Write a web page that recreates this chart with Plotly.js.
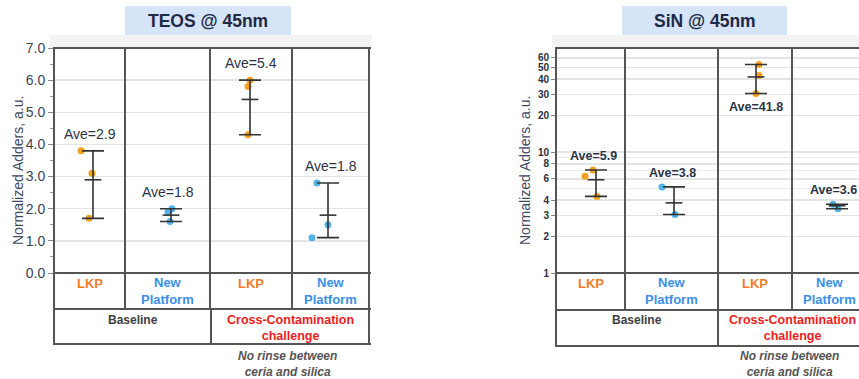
<!DOCTYPE html>
<html><head><meta charset="utf-8">
<script src="https://cdn.plot.ly/plotly-3.0.1.min.js"></script>
<style>html,body{margin:0;padding:0;background:#fff}#chart{width:859px;height:379px}</style>
</head><body><div id="chart"></div>
<script>
// ---------- data ----------
const categories = ['LKP', 'New<br>Platform', 'LKP', 'New<br>Platform'];
const catKind = ['LKP', 'NP', 'LKP', 'NP'];
const groups = ['Baseline', 'Cross-Contamination<br>challenge'];
const footnote = 'No rinse between<br>ceria and silica';
const teosTitle = 'TEOS @ 45nm';
const sinTitle = 'SiN @ 45nm';
const yTitle = 'Normalized Adders, a.u.';
const teosValues = [[3.8, 3.1, 1.7], [2.0, 1.9, 1.6], [6.0, 5.8, 4.3], [2.8, 1.5, 1.1]];
const teosAves = [2.9, 1.8, 5.4, 1.8];
const sinValues = [[7.1, 6.3, 4.3], [5.15, 3.05], [53, 43, 30.5], [3.7, 3.4]];
const sinAves = [5.9, 3.8, 41.8, 3.6];
const teosTicks = [0, 1, 2, 3, 4, 5, 6, 7];
const teosTickText = ['0.0', '1.0', '2.0', '3.0', '4.0', '5.0', '6.0', '7.0'];
const sinTicks = [1, 2, 3, 4, 6, 8, 10, 20, 30, 40, 50, 60];
const sinTickText = ['1', '2', '3', '4', '6', '8', '10', '20', '30', '40', '50', '60'];
const sinMinor = [5, 7, 9];

// ---------- layout / style ----------
const W = 859, H = 379;
const px = x => x / W, py = y => 1 - y / H;
const markerColor = {LKP: '#f4a21c', NP: '#52b4e6'};
const textColor = {LKP: '#f07c2a', NP: '#3b8fe6'};
const frameColor = '#555555';

const panels = [
  {values: teosValues, aves: teosAves, title: teosTitle, ax: '', edges: [54, 125, 210, 292, 369],
   top: 48, bottom: 273, rows: [309, 344], split: 211, titleBox: [125, 291], band: [50, 372],
   yTitleX: 18, rightBorder: true,
   pointOff: [[-8.5, 2.5, -0.5], [4.5, 0.5, 2.5], [-1, -3, -3], [-13.5, -2.5, -18.5]],
   barOff: [3.5, 3.5, -1, -2.5], labelPos: [1, 1, 1, 1], labelShift: 17,
   labelFont: {size: 14, color: '#2b3446', family: 'Liberation Sans, Arial'}},
  {values: sinValues, aves: sinAves, title: sinTitle, ax: '2', edges: [556, 625, 718, 792, 866],
   top: 48, bottom: 273, rows: [310, 346], split: 718, titleBox: [622, 787], band: [552, 859],
   yTitleX: 525, rightBorder: false,
   pointOff: [[2.5, -5.5, 6.5], [-9.5, 3.5], [4, 4, 1], [4, 9]],
   barOff: [5.5, 2.5, 1, 8], labelPos: [1, 1, -1, 1], labelShift: 14,
   labelFont: {size: 12.5, color: '#2b3446', family: 'Liberation Sans, Arial', weight: 'bold'}}
];

const traces = [], shapes = [], annotations = [];
const layout = {
  width: W, height: H, margin: {l: 0, r: 0, t: 0, b: 0},
  paper_bgcolor: '#fff', plot_bgcolor: '#fff', showlegend: false,
  font: {family: 'Liberation Sans, Arial, sans-serif'}
};
const ann = o => annotations.push(Object.assign({showarrow: false, xanchor: 'center', yanchor: 'middle'}, o));

panels.forEach((p, pi) => {
  const xa = 'x' + p.ax, ya = 'y' + p.ax;
  const centers = p.edges.slice(0, 4).map((e, i) => (e + p.edges[i + 1]) / 2);
  const xRight = Math.min(p.edges[4], W);
  layout['xaxis' + p.ax] = {domain: [px(p.edges[0]), px(xRight)], range: [p.edges[0], xRight],
    visible: false, fixedrange: true, anchor: ya};
  const yax = {domain: [py(p.bottom), py(p.top)], anchor: xa, showline: false, zeroline: false,
    ticks: 'outside', ticklen: 5, tickcolor: '#888', tickwidth: 1,
    gridcolor: '#e4e4e4', gridwidth: 1.5, tickmode: 'array'};
  if (pi === 0) {
    Object.assign(yax, {range: [0, 7], tickvals: teosTicks, ticktext: teosTickText,
      tickfont: {size: 14, color: '#3d4352'},
      minor: {tickmode: 'linear', dtick: 0.5, ticks: 'outside', ticklen: 3, tickcolor: '#999', showgrid: false}});
  } else {
    Object.assign(yax, {type: 'log', range: [0, Math.log10(72.5)], tickvals: sinTicks, ticktext: sinTickText,
      tickfont: {size: 10, color: '#2a3040', weight: 'bold'}, ticklen: 4,
      minor: {tickmode: 'array', tickvals: sinMinor, ticks: '', showgrid: true, gridcolor: '#ececec', gridwidth: 1}});
  }
  layout['yaxis' + p.ax] = yax;

  // points
  p.values.forEach((vals, i) => {
    traces.push({type: 'scatter', mode: 'markers', xaxis: xa, yaxis: ya,
      x: vals.map((v, j) => centers[i] + p.pointOff[i][j]), y: vals,
      marker: {size: 7, color: markerColor[catKind[i]]}, hoverinfo: 'y', cliponaxis: false});
  });
  // error bars with mean tick
  const maxs = p.values.map(v => Math.max(...v));
  const mins = p.values.map(v => Math.min(...v));
  traces.push({type: 'scatter', mode: 'markers', xaxis: xa, yaxis: ya,
    x: centers.map((c, i) => c + p.barOff[i]), y: p.aves,
    marker: {symbol: 'line-ew', size: 12, line: {width: 1.6, color: '#333'}, color: '#333'},
    error_y: {type: 'data', symmetric: false, array: maxs.map((m, i) => m - p.aves[i]),
      arrayminus: mins.map((m, i) => p.aves[i] - m), color: '#333', thickness: 1.6, width: 11},
    cliponaxis: false, hoverinfo: 'y'});
  // Ave labels
  p.aves.forEach((a, i) => {
    const above = p.labelPos[i] > 0;
    ann({xref: xa, yref: ya, x: centers[i] + (pi === 0 ? 0 : p.barOff[i] / 2),
      y: pi === 1 ? Math.log10(above ? maxs[i] : mins[i]) : (above ? maxs[i] : mins[i]),
      text: 'Ave=' + a.toFixed(1),
      yshift: above ? p.labelShift : -p.labelShift, font: p.labelFont});
  });

  // frame & grid lines
  const L = {color: frameColor, width: 2};
  const line = (x0, y0, x1, y1) => shapes.push({type: 'line', xref: 'paper', yref: 'paper',
    x0: px(x0), y0: py(y0), x1: px(x1), y1: py(y1), line: L, layer: 'above'});
  // band above plot
  shapes.push({type: 'rect', xref: 'paper', yref: 'paper', x0: px(p.band[0]), x1: px(p.band[1]),
    y0: py(p.top), y1: py(35), fillcolor: '#f3f3f3', line: {width: 0}, layer: 'below'});
  line(p.edges[0] - 1, p.top, xRight + 2, p.top);
  line(p.edges[0] - 1, p.rows[1], xRight + 2, p.rows[1]);
  line(p.edges[0] - 1, p.bottom, xRight + 2, p.bottom);
  line(p.edges[0] - 1, p.rows[0], xRight + 2, p.rows[0]);
  p.edges.forEach((e, i) => {
    if (e > W) return;
    if (i === 0 || (i === 4 && p.rightBorder)) line(e, p.top - 1, e, p.rows[1] + 1);
    else line(e, p.top, e, p.rows[0]);
  });
  line(p.split, p.rows[0], p.split, p.rows[1]);

  // category labels
  categories.forEach((c, i) => {
    ann({xref: 'paper', yref: 'paper', x: px(centers[i]), y: py(catKind[i] === 'LKP' ? 283 : 291),
      text: c, font: {size: 13, color: textColor[catKind[i]], weight: 'bold'}});
  });
  // group labels
  ann({xref: 'paper', yref: 'paper', x: px((p.edges[0] + p.split) / 2), y: py(320),
    text: groups[0], font: {size: 12, color: '#404040', weight: 'bold'}});
  ann({xref: 'paper', yref: 'paper', x: px((p.split + p.edges[4]) / 2), y: py(328),
    text: groups[1], font: {size: 12.5, color: '#ee1c1c', weight: 'bold'}});
  ann({xref: 'paper', yref: 'paper', x: px((p.split + p.edges[4]) / 2 - 3), y: py(363.5),
    text: footnote, font: {size: 12, color: '#555', style: 'italic', weight: 'bold'}});

  // title box
  shapes.push({type: 'rect', xref: 'paper', yref: 'paper', x0: px(p.titleBox[0]), x1: px(p.titleBox[1]),
    y0: py(35), y1: py(6), fillcolor: '#d5e4f7', line: {width: 0}, layer: 'below'});
  ann({xref: 'paper', yref: 'paper', x: px((p.titleBox[0] + p.titleBox[1]) / 2), y: py(21),
    text: p.title, font: {size: 17.5, color: '#1d2a44', weight: 'bold'}});
  // y title
  ann({xref: 'paper', yref: 'paper', x: px(p.yTitleX), y: py(171), text: yTitle,
    textangle: -90, font: {size: 14, color: '#3d4a60'}});
});

layout.shapes = shapes;
layout.annotations = annotations;
Plotly.newPlot('chart', traces, layout, {staticPlot: true});
</script></body></html>
